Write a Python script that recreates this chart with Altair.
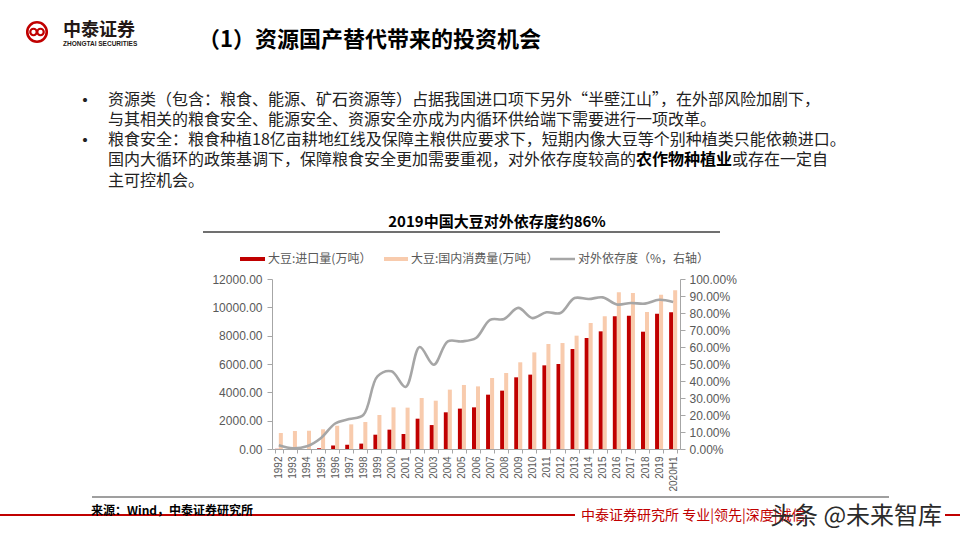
import altair as alt
import pandas as pd

# ---------------- data ----------------
years = ["1992", "1993", "1994", "1995", "1996", "1997", "1998", "1999", "2000",
         "2001", "2002", "2003", "2004", "2005", "2006", "2007", "2008", "2009",
         "2010", "2011", "2012", "2013", "2014", "2015", "2016", "2017", "2018",
         "2019", "2020H1"]
imports = [12, 10, 5, 60, 250, 300, 380, 1010, 1365, 1060, 2140, 1690, 2590,
           2850, 2940, 3835, 4120, 5060, 5250, 5905, 6000, 7060, 7835, 8305,
           9365, 9410, 8280, 9550, 9650]
consumption = [1130, 1270, 1295, 1390, 1650, 1740, 1905, 2400, 2940, 2920, 3600,
               3410, 4190, 4520, 4420, 5010, 5365, 6120, 6820, 7410, 7480, 8000,
               8895, 9365, 11060, 11010, 9670, 10895, 11200]
dependency = [2.2, 0.4, 1.6, 6.5, 15.0, 17.6, 20.0, 42.7, 45.7, 36.5, 60.0, 49.6,
              63.3, 63.3, 65.3, 76.0, 76.5, 83.0, 77.0, 80.4, 80.0, 88.8, 88.2,
              89.2, 85.0, 85.9, 85.5, 87.8, 86.5]
left_ticks = [0, 2000, 4000, 6000, 8000, 10000, 12000]
right_ticks = [0, 10, 20, 30, 40, 50, 60, 70, 80, 90, 100]
series_keys = ["import", "consumption"]
series_names = ["大豆:进口量(万吨）", "大豆:国内消费量(万吨）", "对外依存度（%，右轴）"]

header_title = "（1）资源国产替代带来的投资机会"
chart_title = "2019中国大豆对外依存度约86%"
bullet_lines = [
    "资源类（包含：粮食、能源、矿石资源等）占据我国进口项下另外“半壁江山”，在外部风险加剧下，",
    "与其相关的粮食安全、能源安全、资源安全亦成为内循环供给端下需要进行一项改革。",
    "粮食安全：粮食种植18亿亩耕地红线及保障主粮供应要求下，短期内像大豆等个别种植类只能依赖进口。",
]
line4_parts = ["国内大循环的政策基调下，保障粮食安全更加需要重视，对外依存度较高的", "农作物种植业", "或存在一定自"]
line5 = "主可控机会。"
source_text = "来源：Wind，中泰证券研究所"
footer_text = "中泰证券研究所 专业|领先|深度|诚信"
watermark = "头条 @未来智库"

df = pd.DataFrame({"year": years, "import": imports,
                   "consumption": consumption, "dep": dependency})

# ---------------- layout ----------------
PL, PT, W, H = 272, 279, 408, 170
CJK = "Noto Sans CJK SC"
LAT = "Liberation Sans"
RED = "#C00000"
PEACH = "#F8CBAD"
GRAY = "#A6A6A6"
AXC = "#595959"


def txt(s, x, y, size, color="#000000", weight="normal", font=CJK, align="left"):
    return alt.Chart(alt.Data(values=[{}])).mark_text(
        text=s, fontSize=size, color=color, fontWeight=weight, font=font,
        align=align, baseline="middle"
    ).encode(x=alt.value(x - PL), y=alt.value(y - PT))


def hline(x1, x2, y, color, width):
    return alt.Chart(alt.Data(values=[{}])).mark_rule(
        color=color, strokeWidth=width
    ).encode(x=alt.value(x1 - PL), x2=alt.value(x2 - PL), y=alt.value(y - PT))


def ring(x, y, size, color, width):
    return alt.Chart(alt.Data(values=[{}])).mark_point(
        shape="circle", size=size, filled=False, color=color, strokeWidth=width, opacity=1
    ).encode(x=alt.value(x - PL), y=alt.value(y - PT))


base = alt.Chart(df)
xenc = alt.X("year:N", sort=years,
             scale=alt.Scale(paddingInner=0.43, paddingOuter=0.2),
             axis=alt.Axis(title=None, labelAngle=270, labelAlign="right",
                           labelBaseline="middle", tickBand="extent", tickSize=4,
                           labelPadding=3, labelFont=LAT, labelFontSize=10,
                           labelColor=AXC, domainColor=GRAY, tickColor=GRAY))

bars = base.transform_fold(series_keys, as_=["series", "value"]).mark_bar().encode(
    x=xenc,
    xOffset=alt.XOffset("series:N", sort=series_keys,
                        scale=alt.Scale(paddingInner=0, paddingOuter=0)),
    y=alt.Y("value:Q", scale=alt.Scale(domain=[0, 12000]),
            axis=alt.Axis(title=None, values=left_ticks, format=".2f", grid=False,
                          tickSize=5, labelPadding=5, labelFont=LAT, labelFontSize=12,
                          labelColor=AXC, domainColor=GRAY, tickColor=GRAY)),
    color=alt.Color("series:N", scale=alt.Scale(domain=series_keys, range=[RED, PEACH]),
                    legend=None),
)

line = base.mark_line(color=GRAY, strokeWidth=2.6, interpolate="catmull-rom").encode(
    x=alt.X("year:N", sort=years),
    y=alt.Y("dep:Q", scale=alt.Scale(domain=[0, 100]),
            axis=alt.Axis(title=None, orient="right", values=right_ticks,
                          labelExpr="format(datum.value, '.2f') + '%'", grid=False,
                          tickSize=5, labelPadding=4, labelFont=LAT, labelFontSize=12,
                          labelColor=AXC, domainColor=GRAY, tickColor=GRAY)),
)

deco = []
# logo
deco.append(ring(37, 32, 380, RED, 2.6))
deco.append(ring(33.5, 32, 42, RED, 2.2))
deco.append(ring(40.5, 32, 42, RED, 2.2))
deco.append(txt("中泰证券", 63, 31, 18, "#231815", "bold"))
deco.append(txt("ZHONGTAI SECURITIES", 63, 43.5, 6.5, "#231815", "bold", LAT))
# header title
deco.append(txt(header_title, 198, 40, 22, "#000000", "bold"))
# bullets
FS = 16
ys = [100, 120, 140, 160, 181]
deco.append(txt("•", 77, 101, 16, "#222222", "bold"))
deco.append(txt("•", 77, 141, 16, "#222222", "bold"))
for s, y in zip(bullet_lines, ys[:3]):
    deco.append(txt(s, 108, y, FS, "#222222"))
x0 = 108
deco.append(txt(line4_parts[0], x0, ys[3], FS, "#222222"))
x1 = x0 + len(line4_parts[0]) * FS
deco.append(txt(line4_parts[1], x1, ys[3], FS, "#000000", "bold"))
x2 = x1 + len(line4_parts[1]) * FS
deco.append(txt(line4_parts[2], x2, ys[3], FS, "#222222"))
deco.append(txt(line5, 108, ys[4], FS, "#222222"))
# chart title + underline
deco.append(txt(chart_title, 497, 222, 15, "#000000", "bold", CJK, "center"))
deco.append(hline(203, 720, 232, "#404040", 1.5))
# legend
leg = [(240, 265, RED, 4, 268), (384, 408, PEACH, 4, 411), (550, 575, GRAY, 2.5, 578)]
for (a, b, c, w, tx), name in zip(leg, series_names):
    deco.append(hline(a, b, 259, c, w))
    deco.append(txt(name, tx, 259, 12, AXC))
# footer
deco.append(hline(92, 889, 497, "#7F7F7F", 1.5))
deco.append(hline(0, 575, 515, RED, 2))
deco.append(hline(945, 960, 515, RED, 2))
deco.append(txt(source_text, 91, 511, 12, "#000000", "bold"))
deco.append(txt(footer_text, 581, 516, 14, RED))
deco.append(txt(watermark, 770, 517, 24, "#2B2B2B"))

chart = alt.layer(bars, line, *deco).resolve_scale(y="independent").properties(
    width=W, height=H,
    padding={"left": PL, "top": PT, "right": 960 - PL - W, "bottom": 540 - PT - H},
    autosize=alt.AutoSizeParams(type="none"),
    background="white",
).configure_view(strokeWidth=0)

chart.save("out.html", embed_options={"renderer": "svg", "actions": False})
